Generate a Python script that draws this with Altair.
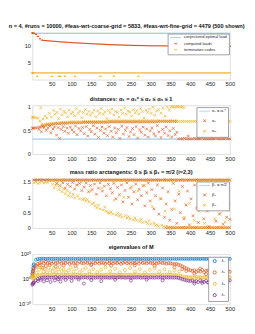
import altair as alt
import pandas as pd

# ---------------- data ----------------
grid = list(range(5, 501, 5))

# panel 1
conj_load = 13.8
loads_early = [(1, 13.9), (2, 13.9), (3, 13.85)]
loads = [13.8, 13.5, 12.9, 12.2, 11.8, 11.7, 11.65, 11.6, 11.55, 11.5,
         11.45, 11.4, 11.35, 11.3, 11.26, 11.22, 11.18, 11.14, 11.1, 11.05,
         11.0, 10.97, 10.94, 10.91, 10.88, 10.85, 10.82, 10.79, 10.76, 10.73,
         10.7, 10.67, 10.64, 10.61, 10.58, 10.55, 10.52, 10.49, 10.46, 10.43,
         10.41, 10.39, 10.37, 10.35, 10.33, 10.31, 10.29, 10.27, 10.25, 10.23,
         10.21, 10.2, 10.19, 10.18, 10.17, 10.16, 10.15, 10.14, 10.13, 10.12,
         10.11, 10.1, 10.1, 10.09, 10.09, 10.08, 10.08, 10.07, 10.07, 10.06,
         10.06, 10.05, 10.05, 10.04, 10.04, 10.03, 10.03, 10.02, 10.02, 10.01,
         10.01, 10.0, 10.0, 10.0, 9.99, 9.99, 9.99, 9.98, 9.98, 9.98,
         9.97, 9.97, 9.97, 9.96, 9.96, 9.96, 9.95, 9.95, 9.95, 9.95]
term_code_two_runs = [1, 2, 3] + grid
term_code_one_runs = [13, 50, 68, 72, 83, 109, 173, 207, 269]

# panel 2
alpha1 = 0.315
alpha2_band = [0.55, 0.55, 0.56, 0.57, 0.59, 0.60, 0.61, 0.62, 0.62, 0.63,
               0.63, 0.64, 0.64, 0.64, 0.65, 0.65, 0.65, 0.65, 0.66, 0.66,
               0.66, 0.66, 0.66, 0.66, 0.66, 0.67, 0.67, 0.67, 0.67, 0.67,
               0.67, 0.67, 0.67, 0.67, 0.67, 0.67, 0.67, 0.67, 0.68, 0.68,
               0.68, 0.68, 0.68, 0.68, 0.68, 0.68, 0.68, 0.68, 0.68, 0.68,
               0.68, 0.68, 0.68, 0.68, 0.68, 0.68, 0.68, 0.68, 0.68, 0.68,
               0.68, 0.68, 0.68, 0.69, 0.69, 0.69, 0.69, 0.69, 0.69, 0.69,
               0.69, 0.69, 0.69, 0.32, 0.32, 0.32, 0.33, 0.32, 0.32, 0.32,
               0.32, 0.33, 0.32, 0.32, 0.32, 0.33, 0.32, 0.32, 0.32, 0.32,
               0.32, 0.32, 0.33, 0.32, 0.32, 0.32, 0.32, 0.33, 0.32, 0.32]
alpha3_band = [0.77, 0.77, 0.76, 0.70, 0.63, 0.62, 0.63, 0.64, 0.64, 0.65,
               0.65, 0.66, 0.66, 0.66, 0.67, 0.67, 0.67, 0.67, 0.68, 0.68,
               0.68, 0.68, 0.68, 0.68, 0.68, 0.69, 0.69, 0.69, 0.69, 0.69,
               0.69, 0.69, 0.69, 0.69, 0.69, 0.69, 0.69, 0.69, 0.70, 0.70,
               0.70, 0.70, 0.70, 0.70, 0.70, 0.70, 0.70, 0.70, 0.70, 0.70,
               0.70, 0.70, 0.70, 0.70, 0.70, 0.70, 0.70, 0.70, 0.70, 0.70,
               0.70, 0.70, 0.70, 0.70, 0.70, 0.70, 0.70, 0.70, 0.70, 0.70,
               0.70, 0.70, 0.70, 0.69, 0.69, 0.69, 0.69, 0.69, 0.69, 0.69,
               0.69, 0.69, 0.69, 0.69, 0.69, 0.69, 0.69, 0.69, 0.69, 0.69,
               0.69, 0.69, 0.69, 0.69, 0.69, 0.69, 0.69, 0.69, 0.69, 0.69]
alpha2_scatter = [(1, 0.54), (3, 0.55), (18, 0.52), (24, 0.47), (27, 0.58), (31, 0.56), (36, 0.50),
                  (40, 0.55), (45, 0.59), (48, 0.45), (53, 0.53), (57, 0.57), (62, 0.40), (66, 0.56),
                  (70, 0.33), (74, 0.52), (79, 0.58), (83, 0.48), (88, 0.55), (92, 0.44), (97, 0.57),
                  (101, 0.51), (106, 0.46), (110, 0.59), (114, 0.41), (119, 0.54), (123, 0.49),
                  (128, 0.56), (132, 0.43), (137, 0.58), (141, 0.38), (146, 0.52), (150, 0.47),
                  (155, 0.60), (159, 0.42), (164, 0.55), (168, 0.35), (173, 0.50), (177, 0.57),
                  (182, 0.44), (186, 0.53), (191, 0.39), (195, 0.58), (200, 0.48), (204, 0.36),
                  (209, 0.55), (213, 0.45), (218, 0.52), (222, 0.33), (227, 0.59), (231, 0.42),
                  (236, 0.50), (240, 0.56), (245, 0.37), (249, 0.47), (254, 0.54), (258, 0.41),
                  (263, 0.58), (267, 0.34), (272, 0.51), (276, 0.46), (281, 0.57), (285, 0.40),
                  (290, 0.53), (294, 0.36), (299, 0.49), (303, 0.55), (308, 0.43), (312, 0.38),
                  (317, 0.60), (321, 0.47), (326, 0.35), (330, 0.52), (335, 0.44), (339, 0.57),
                  (344, 0.39), (348, 0.49), (353, 0.36), (357, 0.54), (362, 0.41), (366, 0.46),
                  (395, 0.38), (420, 0.35), (455, 0.36), (470, 0.39), (485, 0.37)]
alpha3_scatter = [(1, 0.77), (3, 0.78), (22, 0.98), (28, 0.74), (33, 0.80), (38, 0.76), (44, 0.86),
                  (49, 0.78), (55, 0.92), (58, 0.84), (63, 0.88), (67, 0.75), (72, 0.95), (76, 0.83),
                  (81, 0.90), (85, 0.87), (90, 0.79), (94, 0.93), (99, 0.85), (103, 0.89), (108, 0.81),
                  (112, 0.96), (117, 0.86), (121, 0.91), (126, 0.77), (130, 0.88), (135, 0.94),
                  (139, 0.84), (144, 0.90), (148, 0.82), (153, 0.87), (157, 0.93), (162, 0.79),
                  (166, 0.91), (171, 0.86), (175, 0.96), (180, 0.84), (184, 0.89), (189, 0.75),
                  (193, 0.92), (198, 0.87), (202, 0.95), (207, 0.83), (211, 0.90), (216, 0.88),
                  (220, 0.78), (225, 0.93), (229, 0.86), (234, 0.97), (238, 0.84), (243, 0.91),
                  (247, 0.89), (252, 0.80), (256, 0.94), (261, 0.87), (265, 0.92), (270, 0.85),
                  (274, 0.96), (279, 0.90), (283, 0.76), (288, 0.93), (292, 0.88), (297, 0.95),
                  (301, 0.86), (306, 0.99), (310, 0.82), (315, 0.91), (320, 0.94), (326, 0.87),
                  (331, 0.97), (336, 0.80), (342, 0.99), (347, 0.93), (352, 1.0), (356, 1.0),
                  (360, 0.99), (364, 1.0), (368, 1.0), (372, 1.0), (376, 0.99), (380, 1.0), (384, 0.98)]

# panel 3
beta1 = 1.5708
beta2_band = [1.565, 1.56, 1.565, 1.57, 1.56, 1.565, 1.56, 1.57, 1.565, 1.56,
              1.565, 1.57, 1.56, 1.565, 1.56, 1.57, 1.565, 1.56, 1.565, 1.57,
              1.56, 1.565, 1.57, 1.56, 1.565, 1.56, 1.57, 1.565, 1.56, 1.565,
              1.57, 1.56, 1.565, 1.56, 1.57, 1.565, 1.56, 1.565, 1.57, 1.56,
              1.565, 1.56, 1.57, 1.565, 1.56, 1.565, 1.57, 1.56, 1.565, 1.56,
              1.57, 1.565, 1.56, 1.565, 1.57, 1.56, 1.565, 1.56, 1.57, 1.565,
              1.56, 1.565, 1.57, 1.56, 1.565, 1.56, 1.57, 1.565, 1.56, 1.565,
              1.57, 1.56, 1.565, 1.56, 1.57, 1.565, 1.56, 1.565, 1.57, 1.56,
              1.565, 1.56, 1.57, 1.565, 1.56, 1.565, 1.57, 1.56, 1.565, 1.56,
              1.57, 1.565, 1.56, 1.565, 1.57, 1.56, 1.565, 1.56, 1.57, 1.565]
beta3_band = [1.47, 1.50, 1.45, 1.48, 1.52, 1.46, 1.50, 1.49, 1.53, 1.55,
              1.54, 1.55, 1.54, 1.55, 1.54, 1.55, 1.54, 1.55, 1.54, 1.55,
              1.54, 1.55, 1.54, 1.55, 1.54, 1.55, 1.54, 1.55, 1.54, 1.55,
              1.54, 1.55, 1.54, 1.55, 1.54, 1.55, 1.54, 1.55, 1.54, 1.55,
              1.54, 1.55, 1.54, 1.55, 1.54, 1.55, 1.54, 1.55, 1.54, 1.55,
              1.54, 1.55, 1.54, 1.55, 1.54, 1.55, 1.54, 1.55, 1.54, 1.55,
              1.54, 1.55, 1.54, 1.55, 1.54, 1.55, 1.54, 1.55, 1.54, 1.55,
              1.54, 1.55, 1.54, 1.55, 1.54, 1.55, 1.54, 1.55, 1.54, 1.55,
              1.54, 1.55, 1.54, 1.55, 1.54, 1.55, 1.54, 1.55, 1.54, 1.55,
              1.54, 1.55, 1.54, 1.55, 1.54, 1.55, 1.54, 1.55, 1.54, 1.55]
beta2_scatter = [(62, 1.45), (70, 1.38), (78, 1.47), (84, 1.30), (90, 1.42), (97, 1.35), (103, 1.48),
                 (108, 1.27), (114, 1.40), (120, 1.45), (126, 1.22), (132, 1.33), (137, 1.46),
                 (143, 1.18), (148, 1.38), (152, 1.25), (158, 1.43), (163, 1.10), (168, 1.30),
                 (172, 1.47), (178, 1.20), (183, 1.36), (188, 1.05), (193, 1.42), (198, 1.28),
                 (203, 1.15), (207, 1.45), (212, 0.95), (216, 1.32), (221, 1.08), (226, 1.40),
                 (230, 0.85), (235, 1.22), (240, 1.47), (244, 1.00), (249, 1.30), (253, 0.78),
                 (258, 1.18), (262, 1.43), (267, 0.92), (271, 1.26), (276, 1.05), (281, 1.38),
                 (285, 0.72), (290, 1.15), (294, 1.46), (299, 0.88), (303, 1.25), (308, 0.62),
                 (312, 1.05), (317, 1.40), (321, 0.45), (326, 0.95), (330, 1.30), (335, 0.35),
                 (339, 0.78), (344, 1.18), (348, 0.25), (353, 0.60), (357, 1.45), (362, 0.88),
                 (366, 0.15), (371, 1.10), (375, 0.50), (380, 1.35), (384, 0.30), (389, 0.75),
                 (393, 1.20), (398, 0.10), (402, 0.95), (407, 0.40), (411, 1.40), (416, 0.65),
                 (420, 0.18), (425, 1.10), (429, 0.85), (434, 0.30), (438, 1.28), (443, 0.55),
                 (447, 0.05), (452, 1.00), (456, 0.70), (461, 1.45), (465, 0.22), (470, 0.90),
                 (474, 0.45), (479, 1.20), (483, 0.12), (488, 0.62), (492, 0.35), (497, 0.80),
                 (500, 0.28)]
beta3_scatter = [(52, 1.42), (56, 1.30), (60, 1.38), (64, 1.45), (68, 1.25), (72, 1.35), (76, 1.18),
                 (80, 1.28), (84, 1.12), (88, 1.22), (92, 1.05), (96, 1.15), (100, 1.02), (104, 1.10),
                 (108, 0.98), (112, 1.40), (116, 1.05), (120, 0.95), (124, 1.48), (128, 0.92),
                 (132, 0.96), (136, 0.88), (140, 0.93), (144, 0.85), (148, 1.20), (152, 0.78),
                 (156, 0.82), (160, 0.72), (164, 0.66), (168, 0.75), (172, 0.62), (176, 1.30),
                 (180, 0.58), (184, 0.68), (188, 0.55), (192, 0.50), (196, 0.48), (200, 0.52),
                 (204, 0.45), (208, 0.90), (212, 0.42), (216, 0.47), (220, 0.38), (224, 0.44),
                 (228, 0.35), (232, 1.00), (236, 0.40), (240, 0.32), (244, 0.37), (248, 0.30),
                 (252, 1.35), (256, 0.27), (260, 0.33), (264, 0.25), (268, 1.20), (272, 0.22),
                 (276, 0.28), (280, 0.18), (284, 1.38), (288, 0.20), (292, 0.14), (296, 0.24),
                 (300, 0.12), (304, 0.70), (308, 0.16), (312, 0.08), (316, 0.11), (320, 0.05),
                 (324, 0.95), (328, 0.09), (332, 0.04), (336, 0.55), (340, 0.06), (344, 0.02),
                 (360, 0.62), (372, 1.20), (385, 0.35), (398, 0.80), (410, 0.25), (422, 0.55),
                 (436, 0.15), (448, 0.68), (462, 0.30), (475, 0.48), (488, 0.20), (496, 0.58)]
beta2_zero_runs = [338, 344, 350, 356, 361, 367, 372, 378, 383, 389, 394, 400, 405, 411, 416, 422,
                   427, 433, 438, 444, 449, 455, 460, 466, 471, 477, 482, 488, 493, 499]
beta3_zero_runs = [347, 353, 358, 364, 369, 375, 380, 386, 391, 397, 402, 408, 413, 419, 424, 430,
                   435, 441, 446, 452, 457, 463, 468, 474, 479, 485, 490, 496]

# panel 4 (log10 of eigenvalues)
lam1_early = [(1, 4.5), (2, 6.5), (3, 9.0), (4, 11.0)]
lam1_band = [12.0, 15.5, 16.0, 16.2, 16.3, 16.3, 16.2, 16.3, 16.3, 16.2,
             16.3, 16.3, 16.2, 16.3, 16.3, 16.2, 16.3, 16.3, 16.2, 16.3,
             16.3, 16.2, 16.3, 16.3, 16.2, 16.3, 16.3, 16.2, 16.3, 16.3,
             16.2, 16.3, 16.3, 16.2, 16.3, 16.3, 16.2, 16.3, 16.3, 16.2,
             16.3, 16.3, 16.2, 16.3, 16.3, 16.2, 16.3, 16.3, 16.2, 16.3,
             16.3, 16.2, 16.3, 16.3, 16.2, 16.3, 16.3, 16.2, 16.3, 16.3,
             16.2, 16.3, 16.3, 16.2, 16.3, 16.3, 16.2, 16.3, 16.3, 16.2,
             16.3, 16.3, 16.2, 16.3, 16.3, 16.2, 16.3, 16.3, 16.2, 16.3,
             16.3, 16.2, 16.3, 16.3, 16.2, 16.3, 16.3, 16.2, 16.3, 16.3,
             16.2, 16.3, 16.3, 16.2, 16.3, 16.3, 16.2, 16.3, 16.3, 16.2]
lam2_early = [(1, 3.0), (2, 4.5), (3, 6.0), (4, 7.5)]
lam2_band = [8.5, 11.0, 12.3, 12.8, 13.5, 12.6, 13.8, 12.9, 13.2, 12.4,
             13.6, 12.7, 13.1, 14.0, 12.5, 13.4, 12.9, 13.7, 12.2, 13.3,
             12.8, 13.5, 12.4, 13.9, 13.0, 12.6, 13.6, 12.9, 13.3, 12.1,
             13.4, 12.7, 13.8, 12.5, 13.2, 13.0, 12.3, 13.7, 12.8, 13.5,
             12.6, 13.3, 12.9, 13.6, 12.2, 13.1, 13.8, 12.7, 13.4, 12.5,
             13.2, 12.8, 13.5, 12.4, 13.9, 12.9, 13.3, 12.6, 13.7, 13.0,
             12.7, 13.4, 12.5, 13.1, 13.6, 12.8, 13.2, 12.3, 12.9, 12.6,
             12.4, 12.0, 12.2, 11.5, 11.0, 10.2, 9.4, 8.6, 7.8, 7.2,
             6.5, 7.2, 5.8, 6.8, 6.0, 7.4, 5.5, 6.6, 7.0, 6.2,
             5.9, 6.9, 6.3, 7.3, 5.6, 6.7, 6.1, 7.1, 6.4, 6.0]
lam2_scatter = [(12, 10.0), (20, 11.0), (27, 9.0), (35, 10.5), (45, 11.2), (60, 10.0), (80, 11.0),
                (110, 10.5), (150, 11.3), (200, 10.8), (260, 11.0), (310, 10.7), (360, 9.5),
                (380, 8.0), (390, 6.5), (410, 4.5), (425, 8.5), (440, 4.0), (465, 8.0), (485, 4.6)]
lam3_early = [(1, 1.5), (2, 0.5), (3, 2.5), (4, 1.0)]
lam3_band = [2.0, 2.8, 3.2, 3.5, 3.6, 3.4, 3.7, 3.5, 3.3, 3.6,
             3.5, 3.8, 3.4, 3.6, 3.3, 3.7, 3.5, 3.4, 3.8, 3.6,
             3.4, 3.6, 3.5, 3.3, 3.7, 3.5, 3.6, 3.4, 3.8, 3.5,
             3.6, 3.3, 3.5, 3.7, 3.4, 3.6, 3.5, 3.8, 3.4, 3.6,
             3.5, 3.7, 3.4, 3.6, 3.3, 3.5, 3.7, 3.5, 3.6, 3.4,
             3.6, 3.5, 3.8, 3.4, 3.6, 3.3, 3.5, 3.7, 3.4, 3.6,
             3.5, 3.4, 3.7, 3.5, 3.6, 3.3, 3.5, 3.6, 3.4, 3.5,
             3.5, 3.4, 3.3, 3.0, 2.6, 2.2, 1.9, 1.7, 1.6, 1.5,
             1.6, 1.4, 1.8, 1.5, 1.7, 1.3, 1.6, 1.5, 1.8, 1.4,
             1.5, 1.7, 1.4, 1.6, 1.8, 1.5, 1.3, 1.6, 1.7, 1.5]
lam3_scatter = [(12, 5.0), (18, 7.5), (24, 9.5), (29, 6.0), (33, 8.2), (38, 5.5), (42, 9.0), (47, 7.0),
                (52, 6.3), (56, 8.8), (61, 5.2), (66, 7.8), (70, 9.8), (75, 6.5), (80, 8.0), (86, 5.5),
                (92, 7.0), (98, 9.2), (105, 6.0), (112, 8.5), (120, 5.3), (128, 7.4), (136, 9.0),
                (145, 6.2), (155, 8.0), (165, 5.6), (175, 7.6), (186, 9.4), (198, 6.4), (210, 8.3),
                (222, 5.5), (235, 7.2), (248, 9.0), (260, 6.0), (272, 8.0), (285, 5.4), (298, 7.5),
                (310, 8.8), (322, 6.0), (335, 7.8), (348, 5.7), (360, 7.0), (372, 6.2)]
lam4_early = [(1, -4.5), (2, -3.8), (3, -3.2), (4, -3.0)]
lam4_band = [-2.5, -1.0, 0.2, 0.8, 1.1, 1.3, 1.2, 1.4, 1.3, 1.2,
             1.3, 1.5, 1.2, 1.4, 1.1, 1.3, 1.4, 1.2, 1.5, 1.3,
             1.2, 1.4, 1.3, 1.1, 1.4, 1.3, 1.5, 1.2, 1.3, 1.4,
             1.3, 1.2, 1.4, 1.3, 1.5, 1.2, 1.3, 1.4, 1.1, 1.3,
             1.4, 1.3, 1.2, 1.5, 1.3, 1.4, 1.2, 1.3, 1.4, 1.3,
             1.2, 1.4, 1.3, 1.5, 1.2, 1.3, 1.4, 1.3, 1.2, 1.4,
             1.3, 1.2, 1.4, 1.3, 1.5, 1.3, 1.2, 1.4, 1.3, 1.3,
             1.3, 1.2, 1.3, 1.0, 0.5, 0.0, -0.5, -1.0, -1.3, -1.5,
             -1.2, -2.0, -1.5, -2.4, -1.0, -1.8, -2.2, -1.3, -2.5, -1.6,
             -2.0, -1.1, -2.3, -1.7, -1.4, -2.1, -1.2, -1.9, -1.5, -1.0]
lam4_scatter = [(15, -1.5), (22, -0.5), (30, -1.8), (38, -0.8), (47, -2.2), (58, -1.0), (66, 0.0),
                (72, -2.0), (85, -0.6), (100, -1.4), (118, -0.3), (131, -3.5), (150, -0.8),
                (175, -1.6), (210, -0.5), (250, -1.2), (290, -0.4), (330, -1.0), (410, -3.5),
                (430, -3.0), (445, -2.8), (460, -3.8), (475, -2.5), (490, -3.2)]

# ---------------- styling ----------------
RED = "#D95319"
YEL = "#EDB120"
BLUE = "#0072BD"
PURP = "#7E2F8E"
LBLUE = "#a9cde9"
FONT = "Liberation Sans"
W = 219
XPATH = "M-1,-1L1,1M-1,1L1,-1"
LINEPATH = "M-4,0L4,0"
DOTPATH = "M-1,0L1,0"


def frame(series, xs, ys):
    return pd.DataFrame({"x": list(xs), "y": list(ys), "series": series})


def pairs(series, pts):
    return frame(series, [p[0] for p in pts], [p[1] for p in pts])


def xaxis():
    return alt.X("x:Q", scale=alt.Scale(domain=[1, 500], nice=False, zero=False),
                 axis=alt.Axis(values=list(range(50, 501, 50)), title=None, ticks=False,
                               domain=False, grid=False, labelFontSize=6.3, labelFont=FONT,
                               labelColor="#262626", labelPadding=2, labelFlush=False))


def legend(fs, rowpad, symoff, laboff, ssize=9, offset=1.5):
    return alt.Legend(orient="top-right", offset=offset, title=None, fillColor="white",
                      strokeColor="#9a9a9a", padding=2.2, labelFontSize=fs,
                      labelFont=FONT, labelColor="#262626", symbolSize=ssize, symbolStrokeWidth=1,
                      rowPadding=rowpad, symbolOffset=symoff, labelOffset=laboff,
                      labelLimit=200, cornerRadius=0)


def title(t):
    return alt.TitleParams(t, fontSize=6.2, font=FONT, fontWeight="bold", color="#111",
                           offset=2, anchor="middle")


def yaxis(vals, expr="'' + datum.value"):
    return alt.Axis(values=vals, title=None, ticks=False, domain=False, grid=False,
                    labelExpr=expr, labelFontSize=6.3, labelFont=FONT, labelColor="#262626",
                    labelPadding=2)


# ---------- panel 1 ----------
names1 = ["conjectured optimal load", "computed loads", "termination codes"]
cs1 = alt.Scale(domain=names1, range=[LBLUE, RED, YEL])
ss1 = alt.Scale(domain=names1, range=[LINEPATH, DOTPATH, DOTPATH])
ys1 = alt.Scale(domain=[0, 14], nice=False)
d1 = pd.concat([
    pairs("computed loads", loads_early),
    frame("computed loads", grid, loads),
    frame("termination codes", term_code_two_runs, [2] * len(term_code_two_runs)),
    frame("termination codes", term_code_one_runs, [1] * len(term_code_one_runs)),
])
lg1 = legend(4.4, 0.8, 4.5, 7, offset=1)
r1 = alt.Chart(pd.DataFrame({"y": [conj_load]})).mark_rule(
    strokeWidth=1.5, color=LBLUE).encode(y=alt.Y("y:Q", scale=ys1, axis=yaxis([5, 10])))
p1 = alt.Chart(d1).mark_point(filled=False, size=6, strokeWidth=1.3, opacity=1).encode(
    x=xaxis(), y=alt.Y("y:Q", scale=ys1, axis=yaxis([5, 10])),
    color=alt.Color("series:N", scale=cs1, legend=lg1),
    shape=alt.Shape("series:N", scale=ss1, legend=lg1))
panel1 = alt.layer(r1, p1).properties(width=W, height=52)

# ---------- panel 2 ----------
names2 = ["α₁ = α₁*", "α₂", "α₃"]
cs2 = alt.Scale(domain=names2, range=[LBLUE, RED, YEL])
ss2 = alt.Scale(domain=names2, range=[LINEPATH, XPATH, XPATH])
ys2 = alt.Scale(domain=[0, 1.03], nice=False)
d2 = pd.concat([
    frame("α₂", grid, alpha2_band), pairs("α₂", alpha2_scatter),
    frame("α₃", grid, alpha3_band), pairs("α₃", alpha3_scatter),
])
lg2 = legend(4.6, 3.6, 4.5, 6, offset=2)
r2 = alt.Chart(pd.DataFrame({"y": [alpha1]})).mark_rule(
    strokeWidth=1.5, color=LBLUE).encode(y=alt.Y("y:Q", scale=ys2, axis=yaxis([0, 0.5, 1])))
p2 = alt.Chart(d2).mark_point(filled=False, size=9, strokeWidth=0.8, opacity=0.9).encode(
    x=xaxis(), y=alt.Y("y:Q", scale=ys2, axis=yaxis([0, 0.5, 1])),
    color=alt.Color("series:N", scale=cs2, legend=lg2),
    shape=alt.Shape("series:N", scale=ss2, legend=lg2))
panel2 = alt.layer(r2, p2).properties(width=W, height=54,
                                      title=title("distances: α₁ = α₁* ≤ α₂ ≤ α₃ ≤ 1"))

# ---------- panel 3 ----------
names3 = ["β₁ = π/2", "β₂", "β₃"]
cs3 = alt.Scale(domain=names3, range=[LBLUE, RED, YEL])
ss3 = alt.Scale(domain=names3, range=[LINEPATH, XPATH, XPATH])
ys3 = alt.Scale(domain=[0, 1.5708], nice=False)
d3 = pd.concat([
    frame("β₂", grid, beta2_band), pairs("β₂", beta2_scatter),
    frame("β₂", beta2_zero_runs, [0.01] * len(beta2_zero_runs)),
    frame("β₃", grid, beta3_band), pairs("β₃", beta3_scatter),
    frame("β₃", beta3_zero_runs, [0.01] * len(beta3_zero_runs)),
])
lg3 = legend(4.6, 3.4, 4.5, 6, offset=1.5)
r3 = alt.Chart(pd.DataFrame({"y": [beta1]})).mark_rule(
    strokeWidth=1.5, color=LBLUE).encode(y=alt.Y("y:Q", scale=ys3, axis=yaxis([0, 0.5, 1, 1.5])))
p3 = alt.Chart(d3).mark_point(filled=False, size=9, strokeWidth=0.8, opacity=0.9).encode(
    x=xaxis(), y=alt.Y("y:Q", scale=ys3, axis=yaxis([0, 0.5, 1, 1.5])),
    color=alt.Color("series:N", scale=cs3, legend=lg3),
    shape=alt.Shape("series:N", scale=ss3, legend=lg3))
panel3 = alt.layer(r3, p3).properties(
    width=W, height=53.5, title=title("mass ratio arctangents: 0 ≤ βᵢ ≤ β₁ = π/2 (i=2,3)"))

# ---------- panel 4 ----------
names4 = ["λ₁", "λ₂", "λ₃", "λ₄"]
cs4 = alt.Scale(domain=names4, range=[BLUE, RED, YEL, PURP])
d4 = pd.concat([
    pairs("λ₁", lam1_early), frame("λ₁", grid, lam1_band),
    pairs("λ₂", lam2_early), frame("λ₂", grid, lam2_band), pairs("λ₂", lam2_scatter),
    pairs("λ₃", lam3_early), frame("λ₃", grid, lam3_band), pairs("λ₃", lam3_scatter),
    pairs("λ₄", lam4_early), frame("λ₄", grid, lam4_band), pairs("λ₄", lam4_scatter),
])
d4["v"] = 10.0 ** d4["y"]
lbl = "datum.value >= 1e19 ? '10²⁰' : (datum.value <= 1e-19 ? '10⁻²⁰' : '10⁰')"
lg4 = legend(4.6, 3.6, 2.5, 5, ssize=12, offset=2.5)
panel4 = alt.Chart(d4).mark_point(filled=False, size=11, strokeWidth=0.8, opacity=0.9).encode(
    x=xaxis(),
    y=alt.Y("v:Q", scale=alt.Scale(type="log", domain=[1e-20, 1e20], nice=False),
            axis=yaxis([1e-20, 1, 1e20], expr=lbl)),
    color=alt.Color("series:N", scale=cs4, legend=lg4),
    shape=alt.Shape("series:N", scale=alt.Scale(domain=names4, range=["circle"] * 4),
                    legend=lg4),
).properties(width=W, height=55.5, title=title("eigenvalues of M"))

chart = alt.vconcat(panel1, panel2, panel3, panel4, spacing=28.5, bounds="flush").resolve_scale(
    color="independent", shape="independent").properties(
    title=alt.TitleParams(
        "n = 4, #runs = 10000, #feas-wrt-coarse-grid = 5833, #feas-wrt-fine-grid = 4479 (500 shown)",
        fontSize=6.2, font=FONT, fontWeight="bold", color="#111", offset=1, anchor="middle"),
    padding={"left": 0, "top": 0, "right": 2, "bottom": 0}
).configure_view(stroke="#777777", strokeWidth=0.6).configure(background="white")

chart.save("out.html", embed_options={"renderer": "svg", "actions": False})
